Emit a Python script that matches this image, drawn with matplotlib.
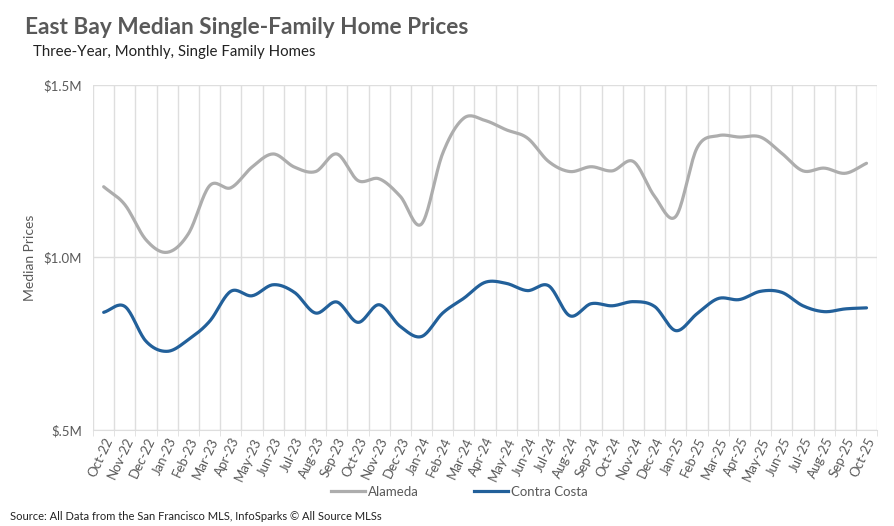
import numpy as np
import matplotlib.pyplot as plt
from matplotlib.lines import Line2D

months = ['Oct-22', 'Nov-22', 'Dec-22', 'Jan-23', 'Feb-23', 'Mar-23', 'Apr-23', 'May-23',
          'Jun-23', 'Jul-23', 'Aug-23', 'Sep-23', 'Oct-23', 'Nov-23', 'Dec-23', 'Jan-24',
          'Feb-24', 'Mar-24', 'Apr-24', 'May-24', 'Jun-24', 'Jul-24', 'Aug-24', 'Sep-24',
          'Oct-24', 'Nov-24', 'Dec-24', 'Jan-25', 'Feb-25', 'Mar-25', 'Apr-25', 'May-25',
          'Jun-25', 'Jul-25', 'Aug-25', 'Sep-25', 'Oct-25']

# median prices, $M
alameda = [1.205, 1.153, 1.051, 1.015, 1.069, 1.208, 1.202, 1.262, 1.300, 1.262,
           1.249, 1.300, 1.223, 1.228, 1.177, 1.097, 1.302, 1.404, 1.397, 1.370,
           1.346, 1.278, 1.249, 1.263, 1.251, 1.278, 1.177, 1.119, 1.317, 1.353,
           1.349, 1.349, 1.302, 1.251, 1.259, 1.244, 1.273]
contra_costa = [0.841, 0.858, 0.757, 0.728, 0.762, 0.815, 0.902, 0.889, 0.921, 0.899,
                0.839, 0.871, 0.812, 0.863, 0.800, 0.771, 0.839, 0.882, 0.928, 0.925,
                0.904, 0.918, 0.831, 0.866, 0.860, 0.872, 0.858, 0.788, 0.837, 0.881,
                0.878, 0.902, 0.899, 0.860, 0.843, 0.851, 0.854]

y_ticks = [0.5, 1.0, 1.5]
y_tick_labels = ['$.5M', '$1.0M', '$1.5M']


def smooth(x, y, n=20):
    # Catmull-Rom curve through the points, like Excel's smoothed line
    x = np.asarray(x, float)
    y = np.asarray(y, float)
    px = np.concatenate([[2 * x[0] - x[1]], x, [2 * x[-1] - x[-2]]])
    py = np.concatenate([[2 * y[0] - y[1]], y, [2 * y[-1] - y[-2]]])
    xs, ys = [], []
    t = np.linspace(0, 1, n, endpoint=False)
    for k in range(1, len(px) - 2):
        for p, out in ((px, xs), (py, ys)):
            p0, p1, p2, p3 = p[k - 1], p[k], p[k + 1], p[k + 2]
            out.extend(0.5 * (2 * p1 + (-p0 + p2) * t + (2 * p0 - 5 * p1 + 4 * p2 - p3) * t ** 2
                              + (-p0 + 3 * p1 - 3 * p2 + p3) * t ** 3))
    xs.append(x[-1])
    ys.append(y[-1])
    return xs, ys


plt.rcParams['font.family'] = ['Lato', 'DejaVu Sans']

fig = plt.figure(figsize=(8.95, 5.26), dpi=100)
ax = fig.add_axes([0.104, 0.1825, 0.876, 0.656])

text_grey = '#595959'
grid_grey = '#DEDEDE'
c_alameda = '#ADADAD'
c_contra = '#22609A'

x = np.arange(len(months))
ax.plot(*smooth(x, alameda), color=c_alameda, lw=2.3, solid_capstyle='round')
ax.plot(*smooth(x, contra_costa), color=c_contra, lw=2.3, solid_capstyle='round')

ax.set_xlim(-0.5, len(months) - 0.5)
ax.set_ylim(0.5, 1.5)
ax.set_yticks(y_ticks)
ax.set_yticklabels(y_tick_labels)
ax.set_xticks(x)
ax.set_xticklabels(months, rotation=65, ha='right', va='top', rotation_mode='anchor')

# vertical gridlines sit between the months
ax.set_xticks(np.arange(len(months) + 1) - 0.5, minor=True)
ax.grid(axis='x', which='minor', color=grid_grey, lw=1)
ax.grid(axis='y', which='major', color=grid_grey, lw=1)
ax.set_axisbelow(True)
ax.tick_params(axis='x', which='major', length=0, pad=4, labelsize=9.5, labelcolor=text_grey)
ax.tick_params(axis='x', which='minor', length=4, color=grid_grey)
ax.tick_params(axis='y', length=0, pad=8, labelsize=9.5, labelcolor=text_grey)
for s in ['left', 'right', 'top']:
    ax.spines[s].set_visible(False)
ax.spines['bottom'].set_color(grid_grey)

ax.set_ylabel('Median Prices', color=text_grey, fontsize=10, labelpad=5)

fig.text(0.028, 0.947, 'East Bay Median Single-Family Home Prices', fontsize=16.3,
         fontweight='bold', color=text_grey, va='center')
fig.text(0.037, 0.901, 'Three-Year, Monthly, Single Family Homes', fontsize=10.8,
         color='#222222', va='center')
fig.text(0.011, 0.019, 'Source: All Data from the San Francisco MLS, InfoSparks \u00a9 All Source MLSs',
         fontsize=8, color='#222222', va='center')

handles = [Line2D([], [], color=c_alameda, lw=2.3), Line2D([], [], color=c_contra, lw=2.3)]
fig.legend(handles, ['Alameda', 'Contra Costa'], loc='center', bbox_to_anchor=(0.513, 0.065),
           ncol=2, frameon=False, fontsize=9.5, labelcolor=text_grey,
           handlelength=2.6, columnspacing=4.2, handletextpad=0.2)

fig.savefig('out.png', dpi=100)
